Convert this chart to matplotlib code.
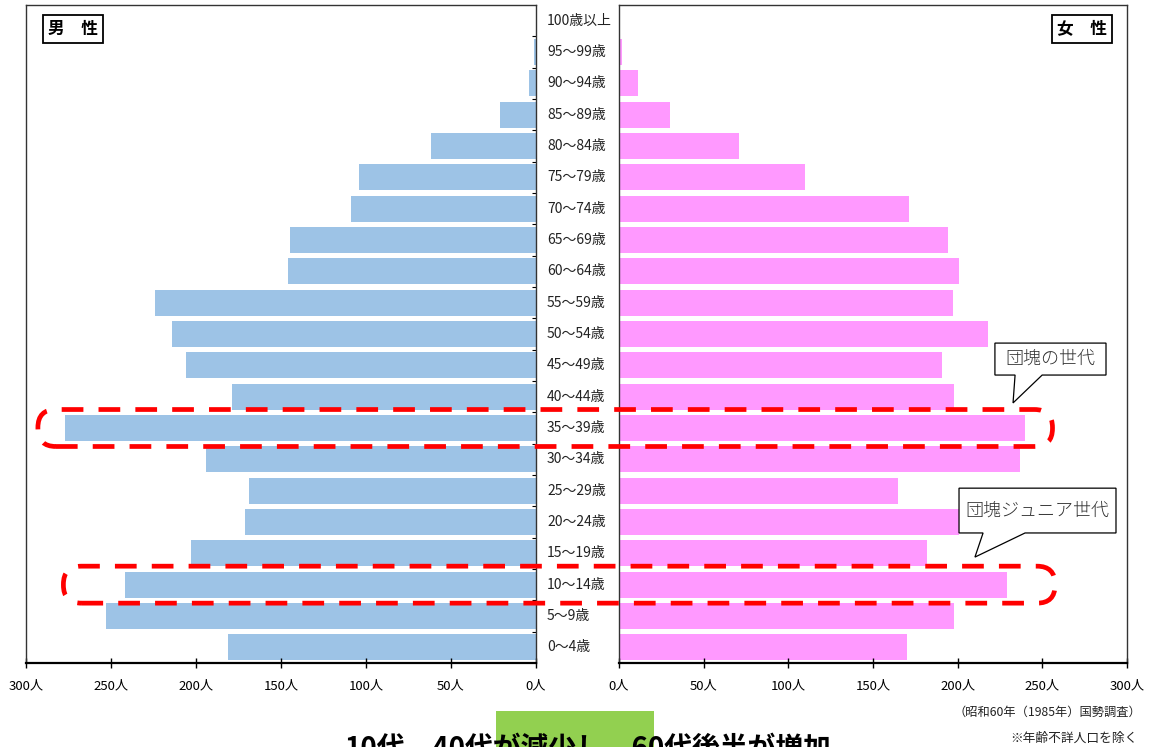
import matplotlib
matplotlib.use('Agg')
import matplotlib.pyplot as plt
from matplotlib.patches import FancyBboxPatch, Polygon, Rectangle
from matplotlib.transforms import IdentityTransform
import numpy as np

plt.rcParams['font.family'] = ['Noto Sans CJK JP', 'DejaVu Sans']

ages = ['0～4歳', '5～9歳', '10～14歳', '15～19歳', '20～24歳', '25～29歳',
        '30～34歳', '35～39歳', '40～44歳', '45～49歳', '50～54歳', '55～59歳',
        '60～64歳', '65～69歳', '70～74歳', '75～79歳', '80～84歳', '85～89歳',
        '90～94歳', '95～99歳', '100歳以上']
male = [181, 253, 242, 203, 171, 169, 194, 277, 179, 206, 214, 224,
        146, 145, 109, 104, 62, 21, 4, 1, 0]
female = [170, 198, 229, 182, 201, 165, 237, 240, 198, 191, 218, 197,
          201, 194, 171, 110, 71, 30, 11, 2, 0]
xticks = [0, 50, 100, 150, 200, 250, 300]
xlabels = [f'{v}人' for v in xticks]

W, H = 1150, 747
fig = plt.figure(figsize=(W / 100, H / 100), dpi=100)
ax_l = fig.add_axes([26 / W, 84 / H, 510 / W, 658 / H])
ax_r = fig.add_axes([619 / W, 84 / H, 508 / W, 658 / H])

y = np.arange(len(ages))
ax_l.barh(y, male, height=0.83, color='#9DC3E6', edgecolor='none')
ax_r.barh(y, female, height=0.83, color='#FF99FF', edgecolor='none')

for ax in (ax_l, ax_r):
    ax.set_ylim(-0.5, len(ages) - 0.5)
    ax.set_xticks(xticks)
    ax.set_xticklabels(xlabels, fontsize=9.5)
    ax.tick_params(axis='x', direction='inout', length=7, width=1, pad=8)
    for s in ax.spines.values():
        s.set_color('#333333')
        s.set_linewidth(1)
    ax.spines['bottom'].set_color('black')
    ax.spines['bottom'].set_linewidth(1.6)

ax_l.set_xlim(300, 0)
ax_r.set_xlim(0, 300)

# small marks between age groups on the male side
ax_l.yaxis.tick_right()
ax_l.set_yticks(y[:-1] + 0.5)
ax_l.set_yticklabels([])
ax_l.tick_params(axis='y', direction='in', length=3, width=0.8)
ax_r.set_yticks([])

# age group names between the two halves
for i, a in enumerate(ages):
    ax_r.text(-72 / 508, i, a, transform=ax_r.get_yaxis_transform(),
              ha='left', va='center', fontsize=10, color='#222222')

box = dict(boxstyle='square,pad=0.3', facecolor='white', edgecolor='black', linewidth=1.3)
ax_l.text(0.092, 0.9635, '男　性', transform=ax_l.transAxes, ha='center', va='center',
          fontsize=12, fontweight='bold', bbox=box)
ax_r.text(0.911, 0.9635, '女　性', transform=ax_r.transAxes, ha='center', va='center',
          fontsize=12, fontweight='bold', bbox=box)


def callout(ax, x0, x1, y0, y1, b0, b1, tip, label):
    pts = [(x0, y1), (x1, y1), (x1, y0), (b1, y0), tip, (b0, y0), (x0, y0)]
    ax.add_patch(Polygon(pts, closed=True, facecolor='white', edgecolor='black',
                         linewidth=0.9, clip_on=False, zorder=6))
    ax.text((x0 + x1) / 2, (y0 + y1) / 2, label, ha='center', va='center',
            fontsize=13, fontweight='light', color='#333333', zorder=7, clip_on=False)


callout(ax_r, 222, 287.6, 8.69, 9.71, 233.9, 249.9, (232.7, 7.80), '団塊の世代')
callout(ax_r, 200.8, 293.5, 3.65, 5.08, 215, 239.8, (210.2, 2.88), '団塊ジュニア世代')


# dashed rings around the baby-boom rows, spanning both halves
def ring(row, left_val, right_val):
    xa, ya = ax_l.transData.transform((left_val, row - 0.59))
    xb, yb = ax_r.transData.transform((right_val, row + 0.59))
    p = FancyBboxPatch((xa, ya), xb - xa, yb - ya,
                       boxstyle='round,pad=0,rounding_size=18',
                       transform=IdentityTransform(), facecolor='none',
                       edgecolor='#FF0000', linewidth=3.4,
                       linestyle=(0, (4.6, 3.2)), zorder=5)
    fig.add_artist(p)


ring(7, 293, 256)
ring(2, 278, 257.5)

fig.text(1141 / W, 1 - 712 / H, '（昭和60年（1985年）国勢調査）', ha='right', va='center',
         fontsize=8.8, color='#222222')
fig.text(1138 / W, 1 - 738 / H, '※年齢不詳人口を除く', ha='right', va='center',
         fontsize=9.2, color='#222222')

fig.add_artist(Rectangle((496 / W, 0), 158 / W, 36 / H, transform=fig.transFigure,
                         facecolor='#92D050', edgecolor='none', zorder=1))
fig.text(588 / W, 1 - 735 / H, '10代、40代が減少し、60代後半が増加', ha='center', va='top',
         fontsize=20, fontweight='bold', color='black', zorder=2)

plt.savefig('out.png', dpi=100)
